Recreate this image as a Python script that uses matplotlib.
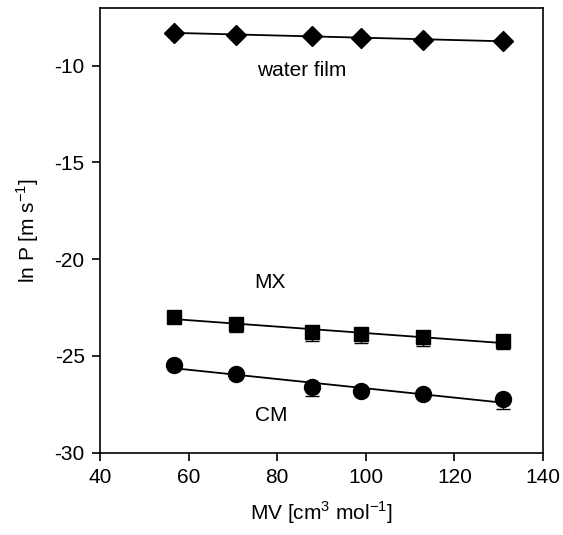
import numpy as np
import matplotlib
matplotlib.use("Agg")
import matplotlib.pyplot as plt

plt.rcParams['font.family'] = ['Liberation Sans', 'DejaVu Sans']
plt.rcParams['mathtext.fontset'] = 'custom'
plt.rcParams['mathtext.rm'] = 'Liberation Sans'
plt.rcParams['axes.unicode_minus'] = False

# molar volumes of the compounds (cm^3 mol^-1)
mv = [56.7, 70.8, 87.8, 98.8, 112.9, 131.0]

# ln P for each barrier
water_film = [-8.29, -8.40, -8.48, -8.57, -8.65, -8.72]
mx = [-22.97, -23.35, -23.75, -23.87, -24.04, -24.23]
mx_err = [0.0, 0.42, 0.48, 0.48, 0.42, 0.42]
cm = [-25.48, -25.91, -26.61, -26.82, -26.96, -27.25]
cm_err = [0.0, 0.0, 0.45, 0.0, 0.0, 0.5]

x_ticks = [40, 60, 80, 100, 120, 140]
y_ticks = [-30, -25, -20, -15, -10]

fig = plt.figure(figsize=(5.63, 5.35), dpi=100)
ax = fig.add_axes([0.1776, 0.1538, 0.787, 0.832])

x = np.array(mv)
line_x = np.array([min(mv), max(mv)])
for y, err, marker, ms in [(water_film, None, 'D', 10),
                           (mx, mx_err, 's', 10.5),
                           (cm, cm_err, 'o', 11.5)]:
    # regression line through the points
    k, b = np.polyfit(x, y, 1)
    ax.plot(line_x, k * line_x + b, color='black', lw=1.3, zorder=2)
    if err is not None:
        # only the lower half shows, the upper one sits under the marker
        ax.errorbar(x, y, yerr=[err, np.zeros(len(err))], fmt='none',
                    ecolor='black', elinewidth=1, capsize=5, capthick=1,
                    zorder=2)
    ax.plot(x, y, linestyle='none', marker=marker, ms=ms,
            color='black', zorder=3)

ax.text(85.6, -10.26, 'water film', ha='center', va='center', fontsize=15)
ax.text(78.4, -21.22, 'MX', ha='center', va='center', fontsize=15)
ax.text(78.6, -28.08, 'CM', ha='center', va='center', fontsize=15)

ax.set_xlim(40, 140)
ax.set_ylim(-30, -7)
ax.set_xticks(x_ticks)
ax.set_yticks(y_ticks)
ax.tick_params(direction='out', length=6, width=1.2, labelsize=15, pad=5)
for s in ax.spines.values():
    s.set_linewidth(1.2)

ax.set_xlabel('MV [cm$^{3}$ mol$^{-1}$]', fontsize=15, labelpad=9)
ax.set_ylabel('ln P [m s$^{-1}$]', fontsize=15, labelpad=10)

fig.savefig('out.png', dpi=100)
